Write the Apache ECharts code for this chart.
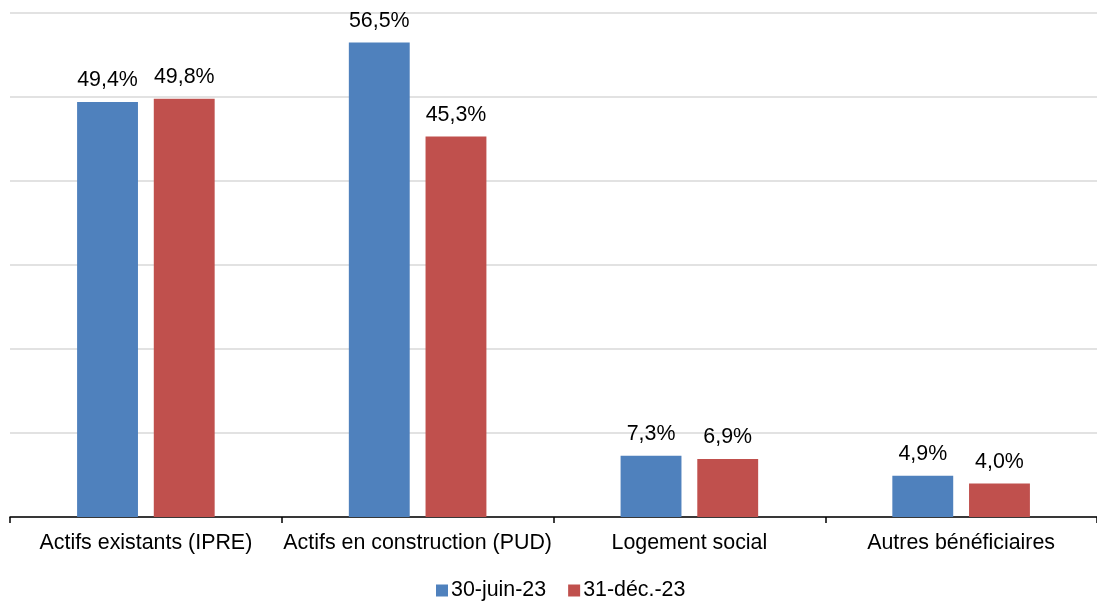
<!DOCTYPE html>
<html><head><meta charset="utf-8">
<script src="https://cdn.jsdelivr.net/npm/echarts@6/dist/echarts.min.js"></script>
<style>html,body{margin:0;padding:0;background:#fff}#c{width:1097px;height:602px}</style>
</head><body><div id="c"></div>
<script>
const categories = ["Actifs existants (IPRE)", "Actifs en construction (PUD)", "Logement social", "Autres bénéficiaires"];
const seriesNames = ["30-juin-23", "31-déc.-23"];
const juin23 = [49.4, 56.5, 7.3, 4.9];
const dec23 = [49.8, 45.3, 6.9, 4.0];
const colors = ["#4f81bd", "#c0504d"];
const FONT = "Liberation Sans, Arial, sans-serif";
const FS = 21.4;
const fmt = p => p.value.toFixed(1).replace('.', ',') + '%';
const chart = echarts.init(document.getElementById('c'), null, {renderer: 'canvas'});
const mk = (name, data, color) => ({
  name, type: 'bar', data, barWidth: '22.4%', barGap: '26%',
  itemStyle: {color},
  label: {show: true, position: 'top', distance: 11, formatter: fmt, color: '#000', fontSize: FS, fontFamily: FONT},
  emphasis: {disabled: true}
});
chart.setOption({
  animation: false,
  grid: {left: 10, right: 0, top: 13, bottom: 85, containLabel: false},
  legend: {
    top: 580, left: 436, padding: 0, itemWidth: 12, itemHeight: 12, itemGap: 22,
    icon: 'rect', textStyle: {fontSize: FS, fontFamily: FONT, color: '#000', padding: [0, 0, 0, -2]},
    data: seriesNames
  },
  xAxis: {
    type: 'category', data: categories,
    axisLine: {lineStyle: {color: '#000', width: 1.5}},
    axisTick: {show: true, length: 6, lineStyle: {color: '#000', width: 1.5}},
    axisLabel: {color: '#000', fontSize: FS, fontFamily: FONT, margin: 16, interval: 0}
  },
  yAxis: {
    type: 'value', min: 0, max: 60, interval: 10,
    axisLabel: {show: false}, axisLine: {show: false}, axisTick: {show: false},
    splitLine: {lineStyle: {color: '#d9d9d9', width: 1.5}}
  },
  series: [mk(seriesNames[0], juin23, colors[0]), mk(seriesNames[1], dec23, colors[1])]
});
</script></body></html>
